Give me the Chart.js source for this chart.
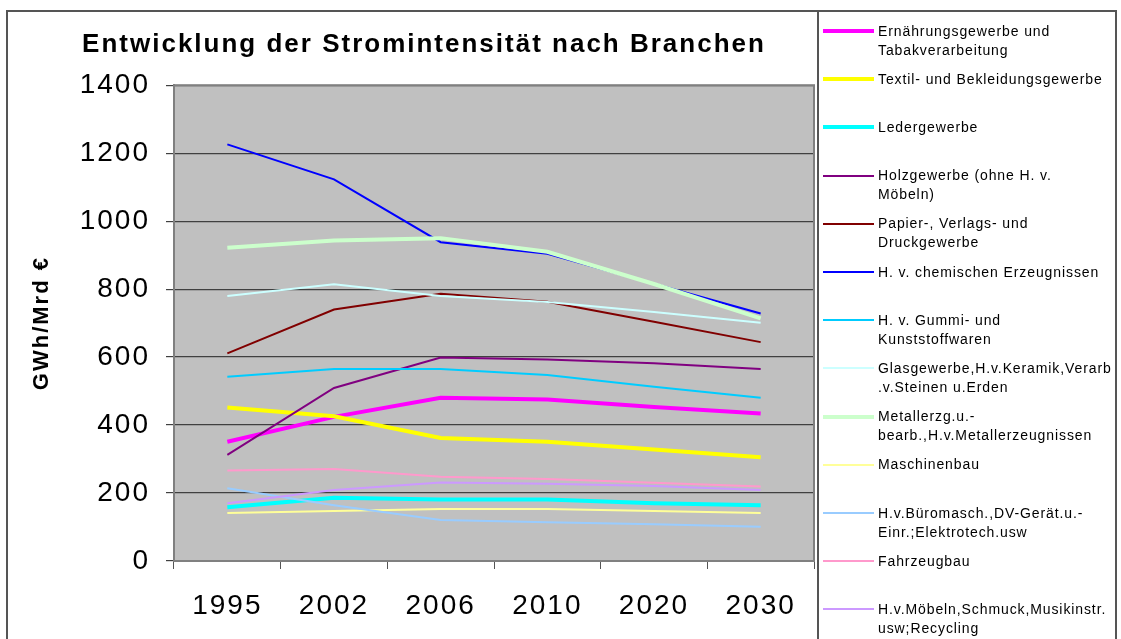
<!DOCTYPE html>
<html>
<head>
<meta charset="utf-8">
<script src="https://cdn.jsdelivr.net/npm/chart.js@4.4.0/dist/chart.umd.min.js"></script>
<style>
  html, body { margin: 0; padding: 0; background: #fff; }
  #wrap { position: relative; width: 1121px; height: 639px; overflow: hidden; font-family: "Liberation Sans", Arial, sans-serif; }
  #frame { position: absolute; left: 6px; top: 10px; width: 1111px; height: 700px; border: 2px solid #555; box-sizing: border-box; }
  #divider { position: absolute; left: 817px; top: 10px; width: 2px; height: 700px; background: #555; }
  #myChart { position: absolute; left: 0; top: 0; }
  .item { position: absolute; left: 823px; }
  .swatch { position: absolute; left: 0; width: 51px; }
  .txt { position: absolute; left: 55px; top: 0; font-size: 14px; line-height: 19px; letter-spacing: 0.9px; white-space: nowrap; color: #000; }
</style>
</head>
<body>
<div id="wrap">
  <div id="frame"></div>
  <div id="divider"></div>
  <canvas id="myChart" width="1121" height="639"></canvas>
  <div id="legend"></div>
</div>
<script>
"use strict";

// categories
const years = ["1995", "2002", "2006", "2010", "2020", "2030"];

// GWh/Mrd € per branch
const ernaehrung = [351, 424, 480, 475, 453, 434];
const textil = [452, 426, 362, 351, 328, 305];
const leder = [158, 186, 181, 181, 170, 164];
const holz = [312, 509, 599, 593, 582, 565];
const papier = [611, 740, 786, 763, 704, 644];
const chemie = [1226, 1123, 938, 904, 816, 728];
const gummi = [542, 565, 565, 547, 513, 480];
const glas = [780, 814, 780, 762, 733, 701];
const metall = [922, 943, 950, 910, 815, 714];
const maschinen = [141, 147, 153, 153, 147, 141];
const buero = [214, 164, 121, 114, 108, 101];
const fahrzeug = [266, 271, 248, 241, 230, 219];
const moebel = [170, 209, 231, 227, 221, 209];

const yTicks = [0, 200, 400, 600, 800, 1000, 1200, 1400];

// legend names (as wrapped in the original)
const seriesNames = [
    ["Ernährungsgewerbe und", "Tabakverarbeitung"],
    ["Textil- und Bekleidungsgewerbe"],
    ["Ledergewerbe"],
    ["Holzgewerbe (ohne H. v.", "Möbeln)"],
    ["Papier-, Verlags- und", "Druckgewerbe"],
    ["H. v. chemischen Erzeugnissen"],
    ["H. v. Gummi- und", "Kunststoffwaren"],
    ["Glasgewerbe,H.v.Keramik,Verarb", ".v.Steinen u.Erden"],
    ["Metallerzg.u.-", "bearb.,H.v.Metallerzeugnissen"],
    ["Maschinenbau"],
    ["H.v.Büromasch.,DV-Gerät.u.-", "Einr.;Elektrotech.usw"],
    ["Fahrzeugbau"],
    ["H.v.Möbeln,Schmuck,Musikinstr.", "usw;Recycling"]
];
const seriesValues = [ernaehrung, textil, leder, holz, papier, chemie, gummi, glas, metall, maschinen, buero, fahrzeug, moebel];

const colors = ["#FF00FF", "#FFFF00", "#00FFFF", "#800080", "#800000", "#0000FF", "#00CCFF",
    "#CCFFFF", "#CCFFCC", "#FFFF99", "#99CCFF", "#FF99CC", "#CC99FF"];
const widths = [4, 4, 4, 2, 2, 2, 2, 2, 4, 2, 2, 2, 2];

const datasets = seriesValues.map((vals, i) => ({
    label: seriesNames[i].join(" "),
    data: vals,
    borderColor: colors[i],
    backgroundColor: colors[i],
    borderWidth: widths[i],
    pointRadius: 0,
    tension: 0,
    fill: false,
    order: -i
}));

// grey plot area + frame, and the stretched Excel-like lettering
const plotArea = {
    id: "plotArea",
    beforeUpdate(chart) { chart.ctx.letterSpacing = "2px"; },
    beforeDraw(chart) {
        const {ctx, chartArea: a} = chart;
        ctx.letterSpacing = "2px";
        ctx.save();
        ctx.fillStyle = "#C0C0C0";
        ctx.fillRect(a.left, a.top, a.right - a.left, a.bottom - a.top);
        ctx.restore();
    },
    beforeDatasetsDraw(chart) {
        const {ctx, chartArea: a} = chart;
        ctx.save();
        ctx.strokeStyle = "#808080";
        ctx.lineWidth = 2;
        ctx.strokeRect(a.left, a.top, a.right - a.left, a.bottom - a.top);
        ctx.restore();
    }
};

const ctx = document.getElementById("myChart").getContext("2d");

let config = {
    type: "line",
    data: { labels: years, datasets: datasets },
    options: {
        responsive: false,
        animation: false,
        layout: { padding: { left: 34, right: 307, top: 0, bottom: 0 } },
        plugins: {
            legend: { display: false },
            tooltip: { enabled: false },
            title: {
                display: true,
                text: "Entwicklung der Stromintensität nach Branchen",
                color: "#000",
                font: { family: "Liberation Sans", size: 26, weight: "bold" },
                padding: { top: 29, bottom: 25 }
            }
        },
        scales: {
            x: {
                offset: true,
                afterFit(scale) { scale.height = 78; },
                grid: { display: true, drawOnChartArea: false, drawTicks: true, tickLength: 8, color: "#555", offset: true },
                border: { color: "#808080", width: 2 },
                ticks: { color: "#000", font: { family: "Liberation Sans", size: 28 }, padding: 20, maxRotation: 0, autoSkip: false }
            },
            y: {
                min: 0,
                max: 1400,
                afterFit(scale) { scale.width = 140; },
                afterBuildTicks(scale) { scale.ticks = yTicks.map(v => ({ value: v })); },
                grid: { color: "#404040", lineWidth: 1.2, tickLength: 8 },
                border: { color: "#808080", width: 2 },
                ticks: {
                    color: "#000",
                    font: { family: "Liberation Sans", size: 28 },
                    padding: 16,
                    callback: v => String(v)
                },
                title: {
                    display: true,
                    text: "GWh/Mrd €",
                    color: "#000",
                    font: { family: "Liberation Sans", size: 22, weight: "bold" },
                    padding: { top: -5, bottom: 0 }
                }
            }
        }
    },
    plugins: [plotArea]
};

let myChart = new Chart(ctx, config);

// legend as html text, built from the same arrays
const legend = document.getElementById("legend");
seriesNames.forEach((lines, i) => {
    const y = 31 + i * 48.2;
    const item = document.createElement("div");
    item.className = "item";
    item.style.top = (y - 9.5) + "px";
    const sw = document.createElement("div");
    sw.className = "swatch";
    sw.style.background = colors[i];
    sw.style.height = widths[i] + "px";
    sw.style.top = (9.5 - widths[i] / 2) + "px";
    item.appendChild(sw);
    const txt = document.createElement("div");
    txt.className = "txt";
    lines.forEach(l => {
        const d = document.createElement("div");
        d.textContent = l;
        txt.appendChild(d);
    });
    item.appendChild(txt);
    legend.appendChild(item);
});
</script>
</body>
</html>
